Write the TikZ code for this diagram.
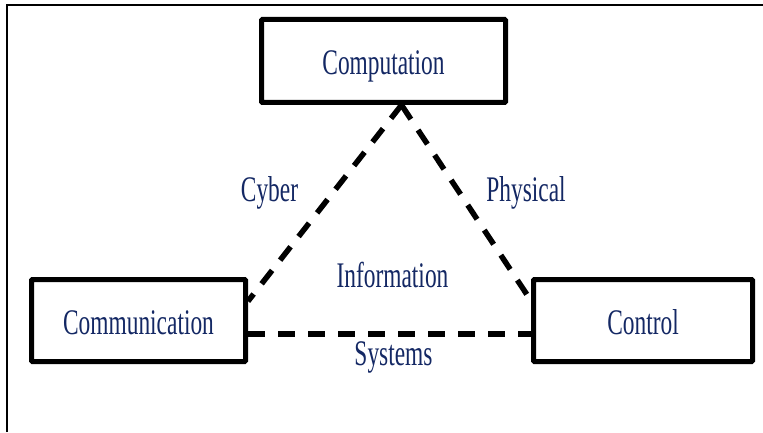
\documentclass[tikz,border=0pt]{standalone}
\usepackage{fontspec}
\usetikzlibrary{calc}
\newfontfamily\labfont[FakeStretch=0.65]{Liberation Serif}
\definecolor{labblue}{RGB}{20,40,100}
\begin{document}
\begin{tikzpicture}[x=1pt,y=1pt,
  box/.style={draw=black, line width=5pt, inner sep=0pt, rounded corners=1pt},
  lab/.style={text=labblue, font=\labfont\fontsize{36}{40}\selectfont, inner sep=0pt, anchor=base},
  link/.style={draw=black, line width=5.5pt, dash pattern=on 17pt off 13pt}]
\useasboundingbox (0,0) rectangle (763,432);
% partial outer frame
\draw[line width=2pt] (7,0) -- (7,427) -- (763,427);
% the three boxes
\node[box, minimum width=244pt, minimum height=83pt] (comp) at (383.5,371) {};
\node[box, minimum width=214pt, minimum height=82pt] (comm) at (138.5,111.5) {};
\node[box, minimum width=219pt, minimum height=82pt] (ctrl) at (643,111.5) {};
\node[lab] (tcomp) at ($(comp.center)+(0,-14)$) {Computation};
\node[lab] (tcomm) at ($(comm.center)+(0,-13.5)$) {Communication};
\node[lab] (tctrl) at ($(ctrl.center)+(0,-13.5)$) {Control};
% dashed triangle
\coordinate (apex) at ($(comp.south)+(18,0)$);
\draw[link] (apex) -- (comm.10);
\draw[link] (apex) -- (ctrl.170);
\draw[link] (comm.-7) -- (comm.-7 -| ctrl.west);
% edge labels
\node[lab] (cyber) at (269.5,231) {Cyber};
\node[lab] (phys) at (526,231) {Physical};
\node[lab] (info) at (392.5,145) {Information};
\node[lab] (sys) at (393.5,67) {Systems};
\end{tikzpicture}
\end{document}
